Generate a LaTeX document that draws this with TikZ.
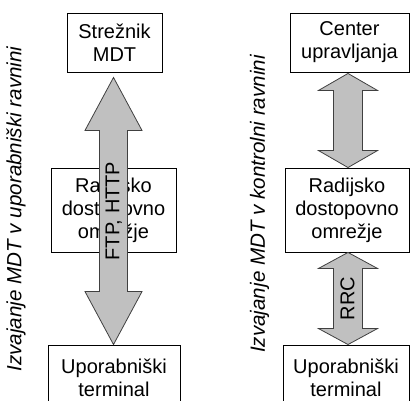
\documentclass[tikz,border=0pt]{standalone}
\usepackage{fontspec}
\setmainfont{Liberation Sans}
\usetikzlibrary{calc}
\definecolor{arrowgray}{RGB}{192,192,192}
\definecolor{arrowline}{RGB}{64,64,64}
\tikzset{
  box/.style={draw=black, line width=0.9pt, fill=white, inner sep=0pt, align=center,
    font=\fontsize{20}{23}\selectfont},
  fatarrow/.style={draw=arrowline, line width=0.8pt, fill=arrowgray, line join=miter},
  arrowlabel/.style={rotate=90, inner sep=0pt, font=\fontsize{20}{24}\selectfont},
  sidelabel/.style={rotate=90, inner sep=0pt, font=\fontsize{20.6}{24}\selectfont\itshape}
}
\newcommand\dblarrow[5]{%
  \draw[fatarrow] let \p1=(#1), \p2=(#2) in
    (\x1,\y1) -- (\x1+#3,\y1-#4) -- (\x1+#5,\y1-#4) -- (\x1+#5,\y2+#4) --
    (\x1+#3,\y2+#4) -- (\x1,\y2) -- (\x1-#3,\y2+#4) -- (\x1-#5,\y2+#4) --
    (\x1-#5,\y1-#4) -- (\x1-#3,\y1-#4) -- cycle;}
\begin{document}
\begin{tikzpicture}[x=1pt,y=-1pt]
\useasboundingbox (0,0) rectangle (410,401);
\clip (0,0) rectangle (410,401);
\fill[white] (0,0) rectangle (410,401);

% left column
\node[box, minimum width=95pt, minimum height=59pt] (srv) at (114.5,42.5) {Strežnik\\MDT};
\node[box, minimum width=125pt, minimum height=84pt] (rad1) at (113.5,210) {Radijsko\\dostopovno\\omrežje};
\node[box, minimum width=132pt, minimum height=65pt] (ut1) at (114,377.5) {Uporabniški\\terminal};

% right column
\node[box, minimum width=119pt, minimum height=59pt] (cu) at (349.5,42.5) {Center\\upravljanja};
\node[box, minimum width=124pt, minimum height=84pt] (rad2) at (347,210) {Radijsko\\dostopovno\\omrežje};
\node[box, minimum width=126pt, minimum height=65pt] (ut2) at (346,377.5) {Uporabniški\\terminal};

% arrows
\coordinate (a1top) at ($(srv.south)+(-1,5)$);
\dblarrow{a1top}{ut1.north}{28.5pt}{53pt}{14pt}
\coordinate (a2top) at ($(cu.south)+(-1.5,1)$);
\dblarrow{a2top}{rad2.north}{29.5pt}{17pt}{14.5pt}
\coordinate (a3top) at ($(rad2.south)+(1,0)$);
\dblarrow{a3top}{ut2.north}{29.5pt}{16pt}{14.5pt}

\node[arrowlabel] (lab1) at ($(a1top)!0.5!(ut1.north)$) {FTP, HTTP};
\node[arrowlabel] (lab2) at ($(rad2.south)!0.5!(ut2.north)+(1,0)$) {RRC};

% side labels
\node[sidelabel] (side1) at (16,209) {Izvajanje MDT v uporabniški ravnini};
\node[sidelabel] (side2) at (259.5,204) {Izvajanje MDT v kontrolni ravnini};
\end{tikzpicture}
\end{document}
